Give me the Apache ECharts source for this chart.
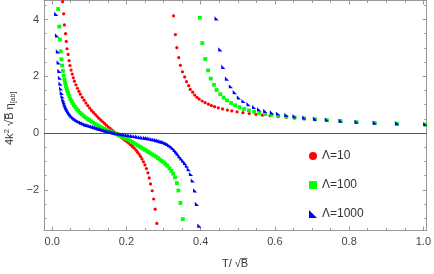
<!DOCTYPE html>
<html><head><meta charset="utf-8">
<script src="https://cdn.jsdelivr.net/npm/echarts@6/dist/echarts.min.js"></script>
<style>html,body{margin:0;padding:0;background:#fff}#c{width:434px;height:274px}</style>
</head><body><div id="c"></div>
<script>
// ---- data ----
const seriesNames = ['\u039B=10', '\u039B=100', '\u039B=1000'];
const xTickLabels = [0, 0.2, 0.4, 0.6, 0.8, 1.0];
const yTickLabels = [-2, 0, 2, 4];
const xMinorTicks = [0.05,0.1,0.15,0.25,0.3,0.35,0.45,0.5,0.55,0.65,0.7,0.75,0.85,0.9,0.95];
const yMinorTicks = [-3,-2.5,-1.5,-1,-0.5,0.5,1,1.5,2.5,3,3.5,4.5];

// Λ=10 low-T branch
const redLowT = [0.028,0.031,0.033,0.036,0.038,0.040,0.043,0.0457,0.048,0.051,0.054,0.057,0.060,0.064,0.068,0.072,0.076,0.081,0.086,0.091,0.096,0.101,0.106,0.111,0.116,0.121,0.126,0.131,0.136,0.141,0.146,0.151,0.156,0.161,0.166,0.171,0.176,0.181,0.186,0.191,0.196,0.201,0.206,0.211,0.216,0.221,0.226,0.230,0.234,0.238,0.242,0.246,0.250,0.254,0.258,0.2615,0.265,0.2695,0.2735,0.2775,0.282];
const redLowY = [4.63,4.2,3.81,3.5,3.23,2.97,2.77,2.55,2.38,2.22,2.08,1.95,1.83,1.70,1.58,1.47,1.37,1.26,1.16,1.06,0.97,0.88,0.80,0.73,0.66,0.59,0.52,0.46,0.40,0.34,0.28,0.22,0.165,0.11,0.055,0.0,-0.05,-0.10,-0.15,-0.20,-0.25,-0.30,-0.35,-0.41,-0.47,-0.53,-0.60,-0.67,-0.74,-0.82,-0.91,-1.01,-1.12,-1.25,-1.40,-1.58,-1.79,-2.03,-2.32,-2.68,-3.18];
// Λ=10 high-T branch
const redHighT = [0.327,0.332,0.336,0.341,0.3455,0.351,0.357,0.362,0.368,0.372,0.3785,0.384,0.390,0.396,0.404,0.412,0.421,0.429,0.4375,0.4475,0.459,0.472,0.484,0.498,0.514,0.531,0.549,0.5665,0.587,0.609,0.631,0.653,0.679,0.708,0.740,0.777,0.820,0.869,0.929,1.005];
const redHighY = [4.13,3.47,3.01,2.66,2.39,2.16,1.98,1.81,1.67,1.54,1.44,1.34,1.26,1.20,1.13,1.07,1.02,0.97,0.93,0.89,0.85,0.81,0.78,0.75,0.72,0.69,0.66,0.63,0.61,0.58,0.56,0.53,0.50,0.47,0.44,0.41,0.38,0.35,0.32,0.29];

// Λ=100 low-T branch
const greenLowT = [0.016,0.019,0.0207,0.023,0.025,0.027,0.029,0.031,0.033,0.035,0.037,0.039,0.041,0.043,0.046,0.049,0.052,0.055,0.058,0.062,0.066,0.070,0.075,0.080,0.085,0.090,0.095,0.100,0.105,0.110,0.115,0.120,0.125,0.130,0.135,0.140,0.145,0.150,0.155,0.160,0.165,0.170,0.175,0.180,0.185,0.190,0.195,0.200,0.205,0.210,0.215,0.220,0.225,0.230,0.235,0.240,0.245,0.250,0.255,0.260,0.265,0.270,0.275,0.280,0.285,0.290,0.295,0.300,0.305,0.310,0.316,0.321,0.326,0.331,0.336,0.340,0.3455,0.352];
const greenLowY = [4.37,3.75,3.30,2.88,2.60,2.38,2.19,2.03,1.89,1.77,1.66,1.57,1.48,1.40,1.30,1.21,1.13,1.06,0.99,0.92,0.85,0.79,0.72,0.66,0.60,0.55,0.50,0.46,0.41,0.37,0.33,0.29,0.25,0.22,0.18,0.15,0.12,0.09,0.06,0.03,0.01,-0.02,-0.05,-0.08,-0.11,-0.14,-0.17,-0.20,-0.23,-0.27,-0.31,-0.35,-0.39,-0.43,-0.47,-0.51,-0.55,-0.59,-0.63,-0.67,-0.71,-0.75,-0.79,-0.83,-0.88,-0.93,-0.98,-1.03,-1.09,-1.15,-1.24,-1.33,-1.43,-1.56,-1.76,-2.02,-2.46,-3.03];
// Λ=100 high-T branch
const greenHighT = [0.398,0.4045,0.4125,0.420,0.427,0.436,0.443,0.453,0.462,0.471,0.482,0.493,0.505,0.517,0.530,0.544,0.558,0.574,0.591,0.609,0.631,0.653,0.679,0.708,0.740,0.777,0.820,0.869,0.929,1.005];
const greenHighY = [4.06,3.17,2.61,2.21,1.92,1.70,1.52,1.37,1.25,1.15,1.06,0.98,0.91,0.85,0.80,0.75,0.71,0.67,0.64,0.61,0.58,0.55,0.52,0.49,0.46,0.43,0.39,0.36,0.33,0.30];

// Λ=1000 low-T branch
const blueLowT = [0.011,0.013,0.0155,0.0175,0.0195,0.021,0.0225,0.024,0.026,0.028,0.030,0.032,0.034,0.036,0.038,0.040,0.043,0.046,0.049,0.052,0.056,0.060,0.064,0.068,0.073,0.078,0.083,0.088,0.093,0.098,0.103,0.108,0.113,0.118,0.123,0.128,0.133,0.138,0.143,0.148,0.153,0.158,0.163,0.168,0.173,0.180,0.187,0.194,0.201,0.208,0.215,0.222,0.229,0.236,0.243,0.250,0.256,0.262,0.268,0.274,0.280,0.285,0.290,0.295,0.300,0.305,0.310,0.315,0.320,0.325,0.330,0.334,0.338,0.343,0.348,0.353,0.358,0.363,0.368,0.374,0.379,0.385,0.390,0.3965];
const blueLowY = [4.2,3.44,2.88,2.49,2.19,1.95,1.74,1.57,1.42,1.29,1.18,1.09,1.01,0.94,0.88,0.83,0.76,0.70,0.65,0.60,0.55,0.51,0.47,0.44,0.40,0.37,0.34,0.31,0.29,0.27,0.25,0.23,0.21,0.19,0.17,0.15,0.13,0.11,0.09,0.07,0.055,0.04,0.025,0.01,-0.005,-0.02,-0.035,-0.05,-0.065,-0.08,-0.095,-0.11,-0.125,-0.14,-0.155,-0.165,-0.18,-0.19,-0.21,-0.225,-0.245,-0.26,-0.28,-0.30,-0.32,-0.35,-0.38,-0.42,-0.47,-0.52,-0.59,-0.65,-0.72,-0.81,-0.89,-0.97,-1.05,-1.15,-1.27,-1.44,-1.67,-2.02,-2.49,-3.26];
// Λ=1000 high-T branch
const blueHighT = [0.443,0.453,0.461,0.471,0.4815,0.492,0.503,0.5155,0.529,0.544,0.5575,0.574,0.592,0.6085,0.631,0.653,0.679,0.708,0.740,0.777,0.820,0.869,0.929,1.005];
const blueHighY = [4.04,2.95,2.33,1.92,1.65,1.44,1.26,1.13,1.02,0.92,0.84,0.78,0.73,0.69,0.64,0.60,0.55,0.51,0.48,0.44,0.40,0.37,0.35,0.32];

// ---- build ----
const zip = (a, b) => a.map((v, i) => [v, b[i]]);
const colors = ['#ff0000', '#00ff00', '#0000ff'];
const triPath = 'path://M0,0 L0,10 L10,10 Z';
const symbols = ['circle', 'rect', triPath];
const sizes = [3.2, 3.8, 4.2];

const X_MIN = -0.022, X_MAX = 1.009, Y_MIN = -3.43, Y_MAX = 4.67;
const frameColor = '#999999';
const lblColor = '#444444';
const font = 'Liberation Sans, Arial, sans-serif';

function xAx(pos, major, withLabel, withLine) {
  const vals = major ? xTickLabels : xMinorTicks;
  return {
    type: 'value', position: pos, min: X_MIN, max: X_MAX,
    axisLine: { show: withLine, onZero: false, lineStyle: { color: frameColor, width: 1 } },
    splitLine: { show: false },
    axisTick: { show: true, inside: true, length: major ? 4 : 2.5, customValues: vals, lineStyle: { color: frameColor } },
    axisLabel: withLabel ? { show: true, customValues: vals, margin: 6, color: lblColor, fontSize: 11, fontFamily: font,
      formatter: v => v.toFixed(1) } : { show: false }
  };
}
function yAx(pos, major, withLabel, withLine) {
  const vals = major ? yTickLabels : yMinorTicks;
  return {
    type: 'value', position: pos, min: Y_MIN, max: Y_MAX,
    axisLine: { show: withLine, onZero: false, lineStyle: { color: frameColor, width: 1 } },
    splitLine: { show: false },
    axisTick: { show: true, inside: true, length: major ? 4 : 2.5, customValues: vals, lineStyle: { color: frameColor } },
    axisLabel: withLabel ? { show: true, customValues: vals, margin: 5, color: lblColor, fontSize: 11, fontFamily: font,
      formatter: v => (v < 0 ? '\u2212' + Math.abs(v) : String(v)) } : { show: false }
  };
}

const lows = [zip(redLowT, redLowY), zip(greenLowT, greenLowY), zip(blueLowT, blueLowY)];
const highs = [zip(redHighT, redHighY), zip(greenHighT, greenHighY), zip(blueHighT, blueHighY)];

const series = [];
seriesNames.forEach((name, i) => {
  series.push({
    name, type: 'scatter', data: lows[i].concat(highs[i]),
    symbol: symbols[i], symbolSize: sizes[i], itemStyle: { color: colors[i], opacity: 1 },
    clip: false, silent: true, z: 3 + i,
    markLine: i === 0 ? { silent: true, symbol: 'none', label: { show: false },
      lineStyle: { color: '#555555', width: 1, type: 'solid' }, data: [{ yAxis: 0 }] } : undefined
  });
});

const chart = echarts.init(document.getElementById('c'), null, { renderer: 'canvas' });
chart.setOption({
  animation: false,
  backgroundColor: '#ffffff',
  grid: { left: 44, right: 6, top: 0.5, bottom: 43.5, containLabel: false },
  xAxis: [xAx('bottom', true, true, true), xAx('bottom', false, false, false), xAx('top', true, false, true), xAx('top', false, false, false)],
  yAxis: [yAx('left', true, true, true), yAx('left', false, false, false), yAx('right', true, false, true), yAx('right', false, false, false)],
  legend: {
    orient: 'vertical', left: 304, top: 145, itemWidth: 8, itemHeight: 8, itemGap: 17,
    textStyle: { fontSize: 12, color: '#333333', fontFamily: font },
    data: seriesNames.map((n, i) => ({ name: n, icon: symbols[i], itemStyle: { color: colors[i] } }))
  },
  series,
  graphic: [
    { type: 'text', left: 222, top: 258, style: { text: 'T/ \u221AB\u0305', fontSize: 11, fill: '#333333', fontFamily: font } },
    { type: 'text', x: 3, y: 145, rotation: Math.PI / 2,
      style: { text: '4k{sup|2} \u221AB\u0305 \u03B7{sub|[ab]}', fontSize: 11, fill: '#333333', fontFamily: font,
        rich: { sup: { fontSize: 8, verticalAlign: 'top', padding: [0,0,6,0] }, sub: { fontSize: 7, padding: [6,0,0,0] } } } }
  ]
});
</script></body></html>
